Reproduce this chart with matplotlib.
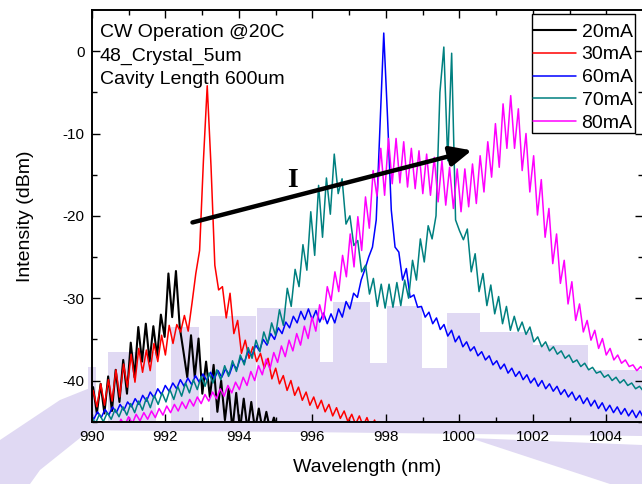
import numpy as np
import matplotlib
matplotlib.use("Agg")
import matplotlib.pyplot as plt
from matplotlib.patches import Rectangle, Polygon

plt.rcParams['font.family'] = ['Liberation Sans', 'DejaVu Sans']

# ---- spectra: first wavelength (nm), half mode-spacing step (nm), intensity (dBm) ----
labels = ["20mA", "30mA", "60mA", "70mA", "80mA"]

black_start, black_step = 989.9325, 0.1025
black_db = [
    -44.0, -40.8, -44.0, -40.4, -44.0, -39.5, -43.7, -38.7, -42.6, -37.5,
    -41.6, -35.4, -39.6, -33.5, -37.7, -33.1, -37.7, -33.4, -37.1, -32.0,
    -34.7, -27.0, -32.3, -26.7, -33.5, -36.5, -39.6, -34.5, -39.6, -34.9,
    -41.6, -37.7, -42.0, -38.1, -43.8, -40.0, -44.8, -41.0, -46.0, -41.5,
    -46.0, -42.2, -46.0, -42.6, -46.0, -43.4, -46.0, -43.8, -46.0, -44.5,
    -46.0,
]

red_start, red_step = 989.9325, 0.1035
red_db = [
    -44.0, -41.2, -43.2, -40.4, -43.0, -39.9, -42.5, -38.7, -42.0, -38.0,
    -40.8, -36.8, -40.2, -36.1, -39.0, -36.3, -38.8, -35.5, -37.7, -34.5,
    -36.9, -33.3, -35.5, -33.2, -34.1, -32.1, -34.0, -30.6, -27.0, -24.2,
    -13.3, -4.2, -14.0, -26.0, -29.0, -28.6, -32.4, -29.4, -34.3, -32.7,
    -36.7, -35.1, -37.3, -35.9, -37.7, -36.7, -38.5, -37.3, -39.8, -38.5,
    -40.4, -39.4, -41.2, -40.0, -41.8, -40.8, -42.4, -41.4, -43.0, -42.0,
    -43.4, -42.4, -43.8, -42.9, -44.3, -43.3, -44.6, -43.7, -45.0, -44.1,
    -45.3, -44.3, -45.5, -44.5, -45.8, -44.8, -46.0, -45.2, -46.5,
]

blue_start, blue_step = 989.95, 0.1025
blue_db = [
    -44.0, -44.7, -43.8, -44.5, -43.5, -44.2, -43.2, -43.9, -42.9, -43.6,
    -42.6, -43.2, -42.2, -42.9, -41.8, -42.5, -41.4, -42.1, -41.0, -41.7,
    -40.6, -41.3, -40.3, -41.0, -39.9, -40.7, -39.7, -40.5, -39.4, -40.2,
    -39.2, -40.0, -39.0, -39.8, -38.8, -39.6, -38.6, -39.3, -38.0, -38.6,
    -37.2, -37.8, -36.4, -37.0, -35.7, -36.4, -35.0, -35.7, -34.3, -35.0,
    -33.6, -34.3, -32.9, -33.6, -32.2, -33.0, -31.6, -32.6, -31.3, -32.6,
    -31.5, -32.9, -31.8, -33.1, -31.9, -33.0, -31.3, -32.3, -30.4, -31.3,
    -29.4, -29.9, -27.8, -26.5, -25.0, -23.8, -20.5, -9.0, 2.2, -8.0,
    -19.3, -23.8, -24.4, -27.8, -26.4, -29.9, -29.6, -31.1, -31.0, -32.3,
    -31.7, -33.1, -32.4, -33.8, -33.2, -34.6, -33.9, -35.3, -34.6, -35.9,
    -35.3, -36.4, -35.9, -37.0, -36.5, -37.5, -37.0, -38.1, -37.6, -38.6,
    -38.0, -39.1, -38.5, -39.5, -38.9, -39.9, -39.3, -40.3, -39.7, -40.7,
    -40.0, -41.0, -40.4, -41.3, -40.7, -41.7, -41.1, -42.0, -41.4, -42.4,
    -41.8, -42.8, -42.1, -43.1, -42.4, -43.4, -42.7, -43.7, -43.0, -43.9,
    -43.2, -44.1, -43.4, -44.3, -43.6, -44.5, -43.7, -44.6,
]

teal_start, teal_step = 989.995, 0.1065
teal_db = [
    -44.4, -45.2, -44.1, -45.0, -43.9, -44.7, -43.5, -44.4, -43.2, -44.2,
    -42.8, -43.9, -42.5, -43.6, -42.1, -43.3, -41.8, -42.9, -41.5, -42.6,
    -41.1, -42.3, -40.7, -41.9, -40.3, -41.5, -39.9, -41.1, -39.5, -40.7,
    -39.1, -40.3, -38.7, -39.9, -38.2, -39.5, -37.6, -38.9, -36.9, -38.1,
    -36.0, -37.3, -35.1, -36.5, -34.1, -35.5, -33.0, -34.5, -31.4, -33.3,
    -28.8, -31.0, -26.5, -28.6, -23.5, -26.6, -19.5, -24.8, -16.3, -22.6,
    -15.4, -19.8, -12.5, -17.3, -15.5, -21.0, -20.0, -23.6, -23.0, -26.8,
    -26.0, -29.5, -27.6, -31.0, -28.3, -31.2, -28.3, -31.1, -28.1, -30.9,
    -27.8, -30.0, -25.4, -27.8, -22.8, -25.6, -21.2, -22.8, -20.0, -5.0,
    0.5, -13.3, -0.25, -20.5, -21.8, -22.9, -21.6, -26.8, -24.6, -29.2,
    -27.0, -30.9, -28.4, -31.9, -29.8, -33.1, -31.0, -33.9, -32.2, -34.0,
    -32.9, -34.4, -33.5, -35.3, -34.7, -35.9, -35.3, -36.4, -35.9, -36.8,
    -36.4, -37.3, -36.9, -37.8, -37.5, -38.3, -37.9, -38.7, -38.4, -39.1,
    -38.9, -39.6, -39.3, -40.0, -39.6, -40.3, -39.9, -40.6, -40.3, -41.0,
    -40.7, -41.3,
]

magenta_start, magenta_step = 989.96, 0.104
magenta_db = [
    -45.8, -46.6, -45.5, -46.3, -45.3, -46.0, -45.0, -45.8, -44.7, -45.5,
    -44.4, -45.2, -44.1, -44.9, -43.9, -44.7, -43.7, -44.5, -43.4, -44.2,
    -43.1, -43.9, -42.9, -43.7, -42.6, -43.4, -42.3, -43.1, -42.0, -42.8,
    -41.7, -42.5, -41.4, -42.2, -41.0, -41.9, -40.6, -41.5, -40.2, -41.1,
    -39.6, -40.6, -38.9, -40.0, -38.2, -39.3, -37.4, -38.6, -36.6, -37.8,
    -35.8, -37.1, -35.1, -36.4, -34.3, -35.7, -33.4, -34.9, -32.3, -34.0,
    -30.8, -32.6, -28.6, -30.3, -26.8, -29.2, -24.8, -27.4, -22.2, -26.2,
    -20.1, -24.2, -17.7, -21.5, -14.5, -17.6, -11.8, -17.5, -10.6, -16.1,
    -10.6, -16.0, -11.0, -16.5, -11.8, -16.7, -12.1, -17.3, -12.5, -17.5,
    -12.9, -18.3, -13.3, -18.7, -14.1, -19.1, -14.3, -19.5, -14.3, -18.9,
    -13.7, -18.5, -12.7, -17.1, -11.0, -15.3, -8.8, -14.1, -6.4, -11.8,
    -5.4, -11.8, -7.0, -14.5, -10.0, -17.1, -12.7, -19.9, -15.6, -22.6,
    -19.1, -25.8, -22.2, -28.2, -25.4, -30.7, -28.0, -32.7, -30.7, -34.1,
    -32.7, -35.1, -33.9, -36.1, -34.9, -36.9, -36.1, -37.5, -36.9, -37.9,
    -37.5, -38.3, -38.1, -38.8, -38.3, -38.9,
]

x_ticks = [990, 992, 994, 996, 998, 1000, 1002, 1004]
y_ticks = [-40, -30, -20, -10, 0]
notes = ["CW Operation @20C", "48_Crystal_5um", "Cavity Length 600um"]

series = [
    (black_start, black_step, black_db, "black", 1.5),
    (red_start, red_step, red_db, "#ff0000", 1.1),
    (blue_start, blue_step, blue_db, "#0000ff", 1.1),
    (teal_start, teal_step, teal_db, "#008080", 1.1),
    (magenta_start, magenta_step, magenta_db, "#ff00ff", 1.1),
]

W, H = 642, 484
fig = plt.figure(figsize=(W / 100, H / 100), dpi=100)
fig.patch.set_facecolor('white')


def fpx(x, y):
    """pixel position (from top-left) -> figure fraction"""
    return (x / W, 1 - y / H)


# faint background emblem behind the plot
emblem = '#e0d9f3'
columns = [(88, 96, 367), (108, 156, 352), (171, 199, 327), (210, 256, 316),
           (257, 320, 308), (320, 333, 362), (333, 370, 302), (370, 387, 363),
           (387, 422, 306), (422, 447, 368), (447, 480, 313), (480, 533, 332),
           (533, 588, 345), (588, 642, 370)]
for x0, x1, top in columns:
    r = Rectangle(fpx(x0, 421), (x1 - x0) / W, (421 - top) / H,
                  transform=fig.transFigure, facecolor=emblem, edgecolor='none',
                  zorder=-5)
    fig.add_artist(r)
bands = [
    [(60, 421), (642, 421), (642, 436), (300, 432), (60, 430)],
    [(470, 438), (642, 445), (642, 484), (610, 484)],
    [(0, 440), (60, 400), (90, 388), (90, 430), (40, 470), (30, 484), (0, 484)],
]
for pts in bands:
    p = Polygon([fpx(x, y) for x, y in pts], closed=True,
                transform=fig.transFigure, facecolor=emblem, edgecolor='none',
                zorder=-5)
    fig.add_artist(p)

ax = fig.add_axes([91.8 / W, 62.3 / H, 551.2 / W, 411.7 / H])
ax.set_facecolor('none')

for (start, step, db, color, lw), label in zip(series, labels):
    wl = start + step * np.arange(len(db))
    ax.plot(wl, db, color=color, lw=lw, label=label,
            solid_joinstyle='round', solid_capstyle='round')

ax.set_xlim(990, 1005)
ax.set_ylim(-45, 5)
ax.set_xticks(x_ticks)
ax.set_xticks(np.arange(991, 1005, 2), minor=True)
ax.set_yticks(y_ticks)
ax.set_yticks([-45, -35, -25, -15, -5], minor=True)
ax.set_xticklabels([str(v) for v in x_ticks])
ax.set_yticklabels([str(v) for v in y_ticks])
ax.tick_params(which='both', direction='in', top=True, right=True,
               labelsize=11, width=1.0, colors='black')
ax.tick_params(which='major', length=6, pad=6)
ax.tick_params(which='minor', length=3.5)
ax.tick_params(axis='y', pad=5)
for sp in ax.spines.values():
    sp.set_linewidth(1.4)

ax.set_xlabel("Wavelength (nm)", fontsize=14, labelpad=11)
ax.set_ylabel("Intensity (dBm)", fontsize=14, labelpad=21)

for text, y in zip(notes, [1.78, -1.13, -4.04]):
    ax.text(990.22, y, text, fontsize=14, ha='left', va='baseline')

ax.annotate('', xy=(1000.34, -12.05), xytext=(992.74, -20.8),
            arrowprops=dict(arrowstyle='-|>,head_length=0.65,head_width=0.3',
                            lw=3.2, color='black', shrinkA=0, shrinkB=0,
                            mutation_scale=20))
ax.text(995.47, -15.7, "I", fontsize=20, fontweight='bold',
        family=['Liberation Serif', 'DejaVu Serif'], ha='center', va='center')

# legend box: white panel with a thin black border, entries on top of it
ax.add_patch(Rectangle(fpx(531.7, 132.7), (635 - 531.7) / W, (132.7 - 14) / H,
                       transform=fig.transFigure, facecolor='white',
                       edgecolor='black', lw=1.0, zorder=4.5, clip_on=False))
leg = ax.legend(loc='upper left', bbox_to_anchor=fpx(533, 23),
                bbox_transform=fig.transFigure, fontsize=14, frameon=False,
                borderpad=0, labelspacing=0.27, handlelength=2.2,
                handletextpad=0.3, borderaxespad=0)
leg.set_zorder(5)

fig.savefig("out.png", dpi=100)
